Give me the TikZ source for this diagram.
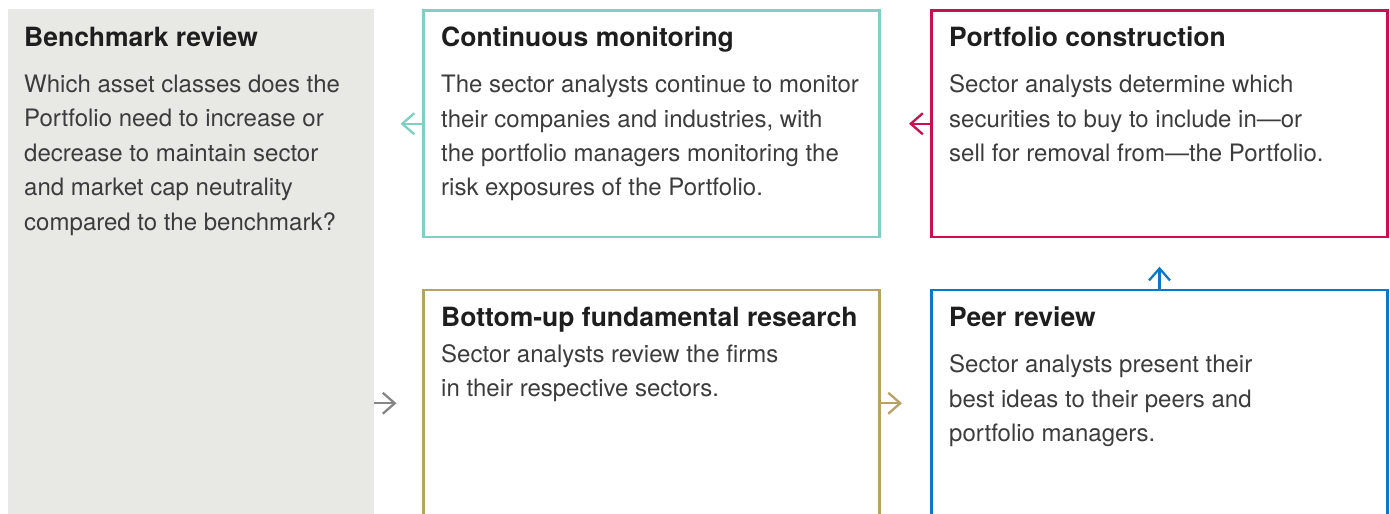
\documentclass[tikz,border=0pt]{standalone}
\usepackage{fontspec}
\setmainfont{TeX Gyre Heros}
\usetikzlibrary{arrows.meta}
\definecolor{panelgray}{HTML}{E8E8E5}
\definecolor{titleink}{HTML}{1E1E1E}
\definecolor{bodyink}{HTML}{3C3C3C}
\definecolor{tealc}{HTML}{7FD0C2}
\definecolor{crimsonc}{HTML}{C8104E}
\definecolor{bluec}{HTML}{0A78C8}
\definecolor{goldc}{HTML}{B9A064}
\definecolor{arrowgray}{HTML}{868686}
\begin{document}
\begin{tikzpicture}[x=1pt,y=-1pt,
  box/.style={draw=#1, line width=2.5pt, inner sep=0pt, outer sep=0pt,
              minimum width=456pt, minimum height=226.5pt},
  flow/.style={draw=#1, line width=2.3pt,
               -{Straight Barb[length=12pt,width=21pt,line width=2.3pt]}},
  title/.style={anchor=base west, inner sep=0pt,
                font=\fontsize{26.5}{30}\selectfont\bfseries, text=titleink},
  % multi-line bodies are placed by the baseline of their last line
  body/.style={anchor=base west, inner sep=0pt, align=left,
               font=\fontsize{24}{34.4}\selectfont, text=bodyink}]
\useasboundingbox (0,0) rectangle (1390,514);
\clip (0,0) rectangle (1390,514);

% grey side panel
\node[fill=panelgray, inner sep=0pt, outer sep=0pt, anchor=north west,
      minimum width=366pt, minimum height=520pt] (bench) at (8,9) {};

% stage boxes
\node[box=tealc]    (mon)      at (651.5,123.75) {};
\node[box=crimsonc] (cons)     at (1159.5,123.75) {};
\node[box=goldc]    (research) at (651.5,403.25) {};
\node[box=bluec]    (peer)     at (1159.5,403.25) {};

% free ends of the flow arrows
\path (mon.west)      ++(-23,0)   coordinate (monout);
\path (cons.west)     ++(-22.5,0) coordinate (consout);
\path (peer.north)    ++(0,-23.3) coordinate (peerout);
\path (research.east) ++(22.5,0)  coordinate (resout);
\coordinate (resin) at (396.5,403.25);

\draw[flow=tealc]     (mon.west) -- (monout);
\draw[flow=crimsonc]  (cons.west) -- (consout);
\draw[flow=bluec]     (peer.north) -- (peerout);
\draw[flow=goldc]     (research.east) -- (resout);
\draw[flow=arrowgray] (bench.east |- resin) -- (resin);

% texts
\node[title] (benchT) at (24,46) {Benchmark review};
\node[body]  (benchB) at (24,230.1) {Which asset classes does the\\Portfolio need to increase or\\decrease to maintain sector\\and market cap neutrality\\compared to the benchmark?};

\node[title] (monT) at (441,46) {Continuous monitoring};
\node[body]  (monB) at (441,195.9) {The sector analysts continue to monitor\\their companies and industries, with\\the portfolio managers monitoring the\\risk exposures of the Portfolio.};

\node[title] (consT) at (949,46) {Portfolio construction};
\node[body]  (consB) at (949,161.5) {Sector analysts determine which\\securities to buy to include in\textemdash or\\sell for removal from\textemdash the Portfolio.};

\node[title] (resT) at (441,326) {Bottom-up fundamental research};
\node[body]  (resB) at (441,396.9) {Sector analysts review the firms\\in their respective sectors.};

\node[title] (peerT) at (949,326) {Peer review};
\node[body]  (peerB) at (949,441.5) {Sector analysts present their\\best ideas to their peers and\\portfolio managers.};
\end{tikzpicture}
\end{document}
